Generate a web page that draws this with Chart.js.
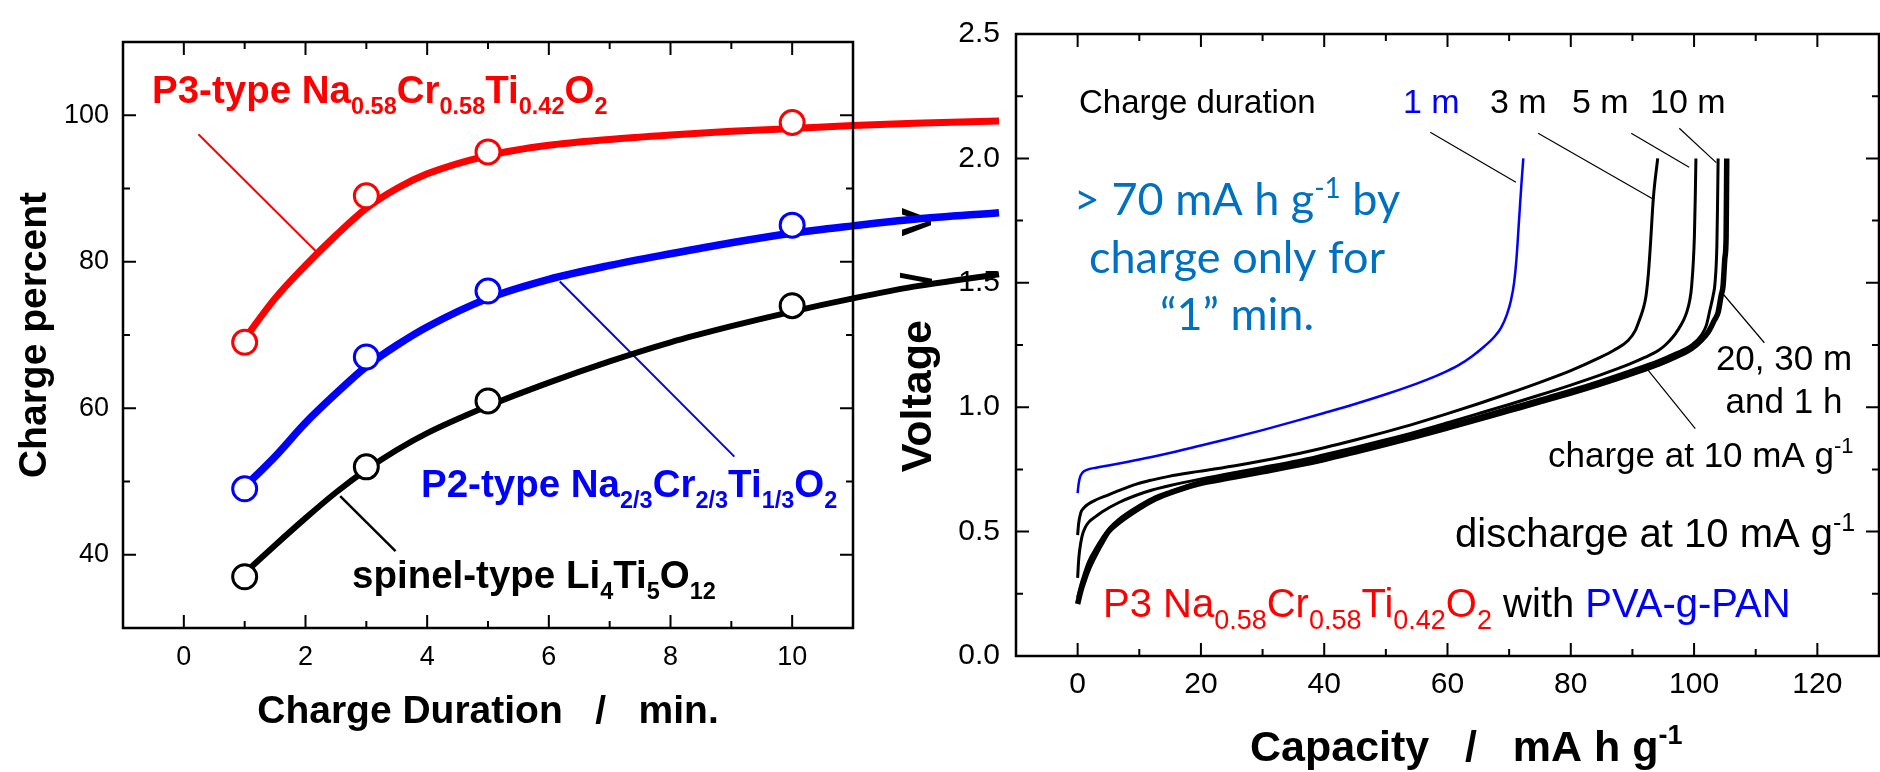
<!DOCTYPE html>
<html>
<head>
<meta charset="utf-8">
<script src="https://cdn.jsdelivr.net/npm/chart.js@4.4.1/dist/chart.umd.min.js"></script>
<style>
html, body { margin: 0; padding: 0; background: #fff; }
#wrap { position: relative; width: 1880px; height: 772px; overflow: hidden; }
canvas { position: absolute; left: 0; top: 0; }
#rightChart { z-index: 1; }
#leftChart { z-index: 2; }
</style>
</head>
<body>
<div id="wrap">
  <canvas id="rightChart" width="1880" height="772"></canvas>
  <canvas id="leftChart" width="1880" height="772"></canvas>
</div>
<script>
// ---------- left panel: charge percent vs charge duration ----------
const durations = [1, 3, 5, 10];
const p3Percent = [69, 89, 95, 99];
const p2Percent = [49, 67, 76, 85];
const ltoPercent = [37, 52, 61, 74];

// fitted curves (they run past the frame on the right)
const fitTime = [1, 1.5, 2, 2.5, 3, 3.5, 4, 5, 6, 7, 8, 9, 10, 11, 12, 13.4];
const p3Fit  = [69.5, 75, 79.5, 83.6, 87.3, 90, 92, 94.5, 95.9, 96.7, 97.3, 97.8, 98.2, 98.6, 98.9, 99.2];
const p2Fit  = [49.3, 53.4, 58, 62, 65.7, 68.6, 71.1, 75, 77.6, 79.5, 81.1, 82.6, 83.9, 84.9, 85.8, 86.7];
const ltoFit = [37.5, 41.3, 45, 48.5, 51.6, 54.3, 56.6, 60.3, 63.5, 66.4, 69, 71.2, 73.2, 75, 76.6, 78.3];

// leader lines from labels to curves
const leadP3  = [[0.24, 97.4], [2.2, 81.2]];
const leadP2  = [[6.18, 77.3], [9.05, 53.4]];
const leadLTO = [[2.57, 48], [3.48, 40.5]];

const durationTicks = [0, 2, 4, 6, 8, 10];
const percentTicks = [40, 60, 80, 100];

// ---------- right panel: discharge curves ----------
const cap1m  = [0, 0.15, 0.4, 0.75, 1.5, 3, 5, 8, 12, 16, 20, 25, 30, 35, 40, 45, 50, 55, 58, 60, 62, 64, 66, 67.5, 68.7, 69.6, 70.3, 70.8, 71.2, 71.6, 72, 72.3];
const volt1m = [0.655, 0.69, 0.72, 0.736, 0.748, 0.757, 0.766, 0.78, 0.8, 0.822, 0.846, 0.876, 0.908, 0.942, 0.977, 1.013, 1.052, 1.095, 1.124, 1.146, 1.172, 1.205, 1.245, 1.28, 1.32, 1.37, 1.43, 1.5, 1.6, 1.75, 1.9, 2.0];

const cap3m  = [0, 0.15, 0.5, 1, 1.8, 3, 5, 7, 9.4, 12, 14.8, 19.7, 26, 30, 35.9, 40, 45, 50, 55, 60, 65, 70, 75, 80, 84.5, 87, 89.3, 90.5, 91.2, 91.8, 92.2, 92.6, 92.9, 93.4, 94.1];
const volt3m = [0.486, 0.53, 0.575, 0.595, 0.612, 0.628, 0.648, 0.668, 0.69, 0.707, 0.722, 0.742, 0.767, 0.785, 0.814, 0.837, 0.868, 0.901, 0.936, 0.974, 1.014, 1.056, 1.1, 1.147, 1.197, 1.229, 1.268, 1.31, 1.355, 1.4, 1.447, 1.54, 1.645, 1.842, 2.0];

const cap5m  = [0, 0.15, 0.3, 0.7, 1.2, 1.8, 3, 4, 6.7, 9.4, 12.1, 15, 19.7, 26, 30, 35.9, 40, 45, 50, 55, 60.2, 65, 70, 74.7, 80, 84.5, 89.3, 92, 94.2, 95.3, 96.5, 97.5, 98.3, 98.8, 99.3, 99.6, 100.05, 100.2, 100.3];
const volt5m = [0.314, 0.38, 0.42, 0.48, 0.515, 0.538, 0.562, 0.58, 0.617, 0.645, 0.667, 0.685, 0.71, 0.74, 0.758, 0.786, 0.809, 0.838, 0.869, 0.902, 0.939, 0.974, 1.011, 1.047, 1.089, 1.127, 1.171, 1.2, 1.228, 1.249, 1.28, 1.315, 1.35, 1.381, 1.43, 1.486, 1.684, 1.85, 2.0];

const cap10m  = [0, 0.5, 1, 1.8, 3, 4, 5, 6.7, 9.4, 12.1, 15, 19.7, 25, 30, 35.9, 40, 45, 50, 55, 60.2, 65, 70, 75, 80, 84.5, 89.3, 94.2, 97, 99.6, 101.2, 102, 102.6, 103.1, 103.4, 103.7, 103.8, 103.9];
const volt10m = [0.235, 0.285, 0.325, 0.38, 0.435, 0.475, 0.51, 0.55, 0.596, 0.634, 0.662, 0.7, 0.726, 0.749, 0.777, 0.799, 0.829, 0.861, 0.893, 0.929, 0.962, 0.998, 1.033, 1.069, 1.104, 1.144, 1.187, 1.217, 1.25, 1.29, 1.33, 1.394, 1.45, 1.5, 1.65, 1.8, 2.0];

// 20 m, 30 m and 1 h lie on top of each other
const capLong  = [0, 0.5, 1, 1.8, 3, 4, 5, 6.7, 9.4, 12.1, 15, 19.7, 25, 30, 35.9, 40, 45, 50, 55, 60.2, 65, 70, 75, 80, 84.5, 89.3, 94.2, 97, 99.6, 101.2, 102.3, 103.3, 103.9, 104.4, 104.7, 105, 105.2, 105.3];
const voltLong = [0.209, 0.26, 0.3, 0.354, 0.415, 0.46, 0.5, 0.538, 0.585, 0.625, 0.655, 0.692, 0.717, 0.74, 0.768, 0.79, 0.82, 0.851, 0.883, 0.918, 0.951, 0.986, 1.021, 1.057, 1.091, 1.13, 1.173, 1.203, 1.236, 1.27, 1.302, 1.35, 1.381, 1.45, 1.486, 1.6, 1.684, 2.0];

const lead1m     = [[57.2, 2.105], [71.1, 1.904]];
const lead3m     = [[74.7, 2.101], [93.4, 1.836]];
const lead5m     = [[89.8, 2.101], [99.2, 1.964]];
const lead10m    = [[97.6, 2.121], [103.6, 1.983]];
const leadLong   = [[104.4, 1.464], [111.4, 1.259]];
const leadCharge = [[92.5, 1.15], [100.2, 0.914]];

const capacityTicks = [0, 20, 40, 60, 80, 100, 120];
const voltageTicks = [0, 0.5, 1.0, 1.5, 2.0, 2.5];
const voltageLabels = ['0.0', '0.5', '1.0', '1.5', '2.0', '2.5'];

const SANS = '"Liberation Sans", Arial, sans-serif';
const NOTE = 'Lato, "Open Sans", sans-serif';

function pts(xs, ys) { return xs.map((x, i) => ({ x: x, y: ys[i] })); }
function pairs(arr) { return arr.map(p => ({ x: p[0], y: p[1] })); }

// rich text with sub/superscripts: parts = [[text, kind, color]]
function drawRich(ctx, parts, x, y, o) {
  const font = s => (o.weight || 'normal') + ' ' + s + 'px ' + (o.family || SANS);
  let w = 0;
  parts.forEach(p => { ctx.font = font(p[1] ? o.small : o.size); w += ctx.measureText(p[0]).width; });
  let cx = o.align === 'center' ? x - w / 2 : x;
  ctx.textAlign = 'left';
  ctx.textBaseline = 'alphabetic';
  parts.forEach(p => {
    ctx.font = font(p[1] ? o.small : o.size);
    ctx.fillStyle = p[2] || o.color || '#000';
    let dy = 0;
    if (p[1] === 'sub') dy = o.subDy || 0;
    if (p[1] === 'sup') dy = -(o.supDy || 0);
    ctx.fillText(p[0], cx, y + dy);
    cx += ctx.measureText(p[0]).width;
  });
}

// boxed frame with inward major and minor ticks on all four sides
const frameTicks = {
  id: 'frameTicks',
  afterDatasetsDraw(chart, args, opts) {
    const { ctx, chartArea: a, scales: { x, y } } = chart;
    const [x0, x1] = opts.xRange;
    const L = x.getPixelForValue(x0), R = x.getPixelForValue(x1);
    ctx.save();
    ctx.strokeStyle = '#000';
    ctx.lineWidth = 2.5;
    ctx.strokeRect(L, a.top, R - L, a.bottom - a.top);
    ctx.lineWidth = 2;
    const tick = (v, len, horiz) => {
      ctx.beginPath();
      if (horiz) {
        const px = x.getPixelForValue(v);
        ctx.moveTo(px, a.bottom); ctx.lineTo(px, a.bottom - len);
        ctx.moveTo(px, a.top); ctx.lineTo(px, a.top + len);
      } else {
        const py = y.getPixelForValue(v);
        ctx.moveTo(L, py); ctx.lineTo(L + len, py);
        ctx.moveTo(R, py); ctx.lineTo(R - len, py);
      }
      ctx.stroke();
    };
    for (let v = x0 + opts.xMinor; v < x1 - 1e-9; v += opts.xMinor) {
      const major = x.ticks.some(t => Math.abs(t.value - v) < 1e-9);
      tick(v, major ? 13 : 7, true);
    }
    for (let v = y.min + opts.yMinor; v < y.max - 1e-9; v += opts.yMinor) {
      const major = y.ticks.some(t => Math.abs(t.value - v) < 1e-9);
      tick(v, major ? 13 : 7, false);
    }
    ctx.restore();
  }
};

const leftText = {
  id: 'leftText',
  afterDraw(chart) {
    const ctx = chart.ctx;
    ctx.save();
    drawRich(ctx, [['Charge Duration   /   min.']], 488, 723, { size: 39, weight: 'bold', align: 'center' });
    ctx.save();
    ctx.translate(46, 335);
    ctx.rotate(-Math.PI / 2);
    drawRich(ctx, [['Charge percent']], 0, 0, { size: 39, weight: 'bold', align: 'center' });
    ctx.restore();
    const lab = { size: 38.5, small: 23.5, weight: 'bold', subDy: 11 };
    drawRich(ctx, [['P3-type Na'], ['0.58', 'sub'], ['Cr'], ['0.58', 'sub'], ['Ti'], ['0.42', 'sub'], ['O'], ['2', 'sub']],
      152, 103, Object.assign({ color: '#ff0000' }, lab));
    drawRich(ctx, [['P2-type Na'], ['2/3', 'sub'], ['Cr'], ['2/3', 'sub'], ['Ti'], ['1/3', 'sub'], ['O'], ['2', 'sub']],
      421, 497, Object.assign({ color: '#0000ff' }, lab));
    drawRich(ctx, [['spinel-type Li'], ['4', 'sub'], ['Ti'], ['5', 'sub'], ['O'], ['12', 'sub']],
      352, 588, Object.assign({ color: '#000' }, lab));
    ctx.restore();
  }
};

const rightText = {
  id: 'rightText',
  afterDraw(chart) {
    const ctx = chart.ctx;
    ctx.save();
    drawRich(ctx, [['Capacity   /   mA h g'], ['-1', 'sup']], 1250, 761, { size: 43, small: 27, weight: 'bold', supDy: 17 });
    ctx.save();
    ctx.translate(931, 340);
    ctx.rotate(-Math.PI / 2);
    drawRich(ctx, [['Voltage   /   V']], 0, 0, { size: 43, weight: 'bold', align: 'center' });
    ctx.restore();

    drawRich(ctx, [['Charge duration']], 1079, 113, { size: 33 });
    drawRich(ctx, [['1 m']], 1403, 113, { size: 34, color: '#0000ff' });
    drawRich(ctx, [['3 m']], 1490, 113, { size: 34 });
    drawRich(ctx, [['5 m']], 1572, 113, { size: 34 });
    drawRich(ctx, [['10 m']], 1650, 113, { size: 34 });
    drawRich(ctx, [['20, 30 m']], 1784, 370, { size: 35, align: 'center' });
    drawRich(ctx, [['and 1 h']], 1784, 413, { size: 35, align: 'center' });
    drawRich(ctx, [['charge at 10 mA g'], ['-1', 'sup']], 1548, 467, { size: 35, small: 22, supDy: 14 });
    drawRich(ctx, [['discharge at 10 mA g'], ['-1', 'sup']], 1455, 547, { size: 40, small: 25, supDy: 16 });
    drawRich(ctx, [['P3 Na', '', '#ff0000'], ['0.58', 'sub', '#ff0000'], ['Cr', '', '#ff0000'], ['0.58', 'sub', '#ff0000'],
      ['Ti', '', '#ff0000'], ['0.42', 'sub', '#ff0000'], ['O', '', '#ff0000'], ['2', 'sub', '#ff0000'],
      [' with '], ['PVA-g-PAN', '', '#0000ff']], 1103, 617, { size: 40, small: 27, subDy: 12 });

    const note = { size: 45, small: 28, family: NOTE, color: '#0070c0', align: 'center', supDy: 17 };
    drawRich(ctx, [['> 70 mA h g'], ['-1', 'sup'], [' by']], 1237, 215, note);
    drawRich(ctx, [['charge only for']], 1237, 273, note);
    drawRich(ctx, [['\u201c1\u201d min.']], 1237, 330, note);
    ctx.restore();
  }
};

function tickFont(size) { return { family: 'Liberation Sans', size: size }; }

// ---------- left chart ----------
// the x scale runs to 14 so the fitted curves can continue past the frame (drawn to 11)
function marker(ys, color) {
  return { data: pts(durations, ys), borderColor: color, backgroundColor: '#fff', pointRadius: 12, borderWidth: 3, order: 0 };
}
function fit(ys, color, width) {
  return { data: pts(fitTime, ys), showLine: true, borderColor: color, borderWidth: width, pointRadius: 0, cubicInterpolationMode: 'monotone', order: 1 };
}
new Chart(document.getElementById('leftChart'), {
  type: 'scatter',
  data: {
    datasets: [
      marker(p3Percent, '#ff0000'),
      marker(p2Percent, '#0000ff'),
      marker(ltoPercent, '#000'),
      fit(p3Fit, '#ff0000', 7),
      fit(p2Fit, '#0000ff', 7.5),
      fit(ltoFit, '#000', 6),
      { data: pairs(leadP3), showLine: true, borderColor: '#ff0000', borderWidth: 2, pointRadius: 0, order: 2 },
      { data: pairs(leadP2), showLine: true, borderColor: '#0000ff', borderWidth: 2, pointRadius: 0, order: 2 },
      { data: pairs(leadLTO), showLine: true, borderColor: '#000', borderWidth: 2.5, pointRadius: 0, order: 2 }
    ]
  },
  options: {
    responsive: false,
    animation: false,
    events: [],
    layout: { padding: { left: 0, top: 42, right: 844.5, bottom: 0 } },
    plugins: { legend: { display: false }, tooltip: { enabled: false }, frameTicks: { xRange: [-1, 11], xMinor: 1, yMinor: 10 } },
    scales: {
      x: {
        type: 'linear', min: -1, max: 14,
        afterBuildTicks: s => { s.ticks = durationTicks.map(v => ({ value: v })); },
        afterFit: s => { s.height = 144; },
        grid: { display: false, drawTicks: false }, border: { display: false },
        ticks: { font: tickFont(27), color: '#000', padding: 13, maxRotation: 0, autoSkip: false }
      },
      y: {
        type: 'linear', min: 30, max: 110,
        afterBuildTicks: s => { s.ticks = percentTicks.map(v => ({ value: v })); },
        afterFit: s => { s.width = 123; },
        grid: { display: false, drawTicks: false }, border: { display: false },
        ticks: { font: tickFont(27), color: '#000', padding: 14, autoSkip: false }
      }
    }
  },
  plugins: [frameTicks, leftText]
});

// ---------- right chart ----------
function curve(xs, ys, color, width) {
  return { data: pts(xs, ys), showLine: true, borderColor: color, borderWidth: width, pointRadius: 0, cubicInterpolationMode: 'monotone', order: 1 };
}
function leader(arr) {
  return { data: pairs(arr), showLine: true, borderColor: '#000', borderWidth: 1.2, pointRadius: 0, order: 2 };
}

new Chart(document.getElementById('rightChart'), {
  type: 'scatter',
  data: {
    datasets: [
      curve(cap1m, volt1m, '#0000ff', 2.5),
      curve(cap3m, volt3m, '#000', 3),
      curve(cap5m, volt5m, '#000', 3),
      curve(cap10m, volt10m, '#000', 3),
      curve(capLong, voltLong, '#000', 5.5),
      leader(lead1m), leader(lead3m), leader(lead5m), leader(lead10m), leader(leadLong), leader(leadCharge)
    ]
  },
  options: {
    responsive: false,
    animation: false,
    events: [],
    layout: { padding: { left: 900, top: 23, right: 1, bottom: 0 } },
    plugins: { legend: { display: false }, tooltip: { enabled: false }, frameTicks: { xRange: [-10, 130], xMinor: 10, yMinor: 0.25 } },
    scales: {
      x: {
        type: 'linear', min: -10, max: 130,
        afterBuildTicks: s => { s.ticks = capacityTicks.map(v => ({ value: v })); },
        afterFit: s => { s.height = 116; },
        grid: { display: false, drawTicks: false }, border: { display: false },
        ticks: { font: tickFont(30), color: '#000', padding: 11, maxRotation: 0, autoSkip: false }
      },
      y: {
        type: 'linear', min: 0, max: 2.5,
        afterBuildTicks: s => { s.ticks = voltageTicks.map(v => ({ value: v })); },
        afterFit: s => { s.width = 116; },
        grid: { display: false, drawTicks: false }, border: { display: false },
        ticks: { font: tickFont(30), color: '#000', padding: 16, autoSkip: false,
          callback: (v, i) => voltageLabels[i] }
      }
    }
  },
  plugins: [frameTicks, rightText]
});
</script>
</body>
</html>
